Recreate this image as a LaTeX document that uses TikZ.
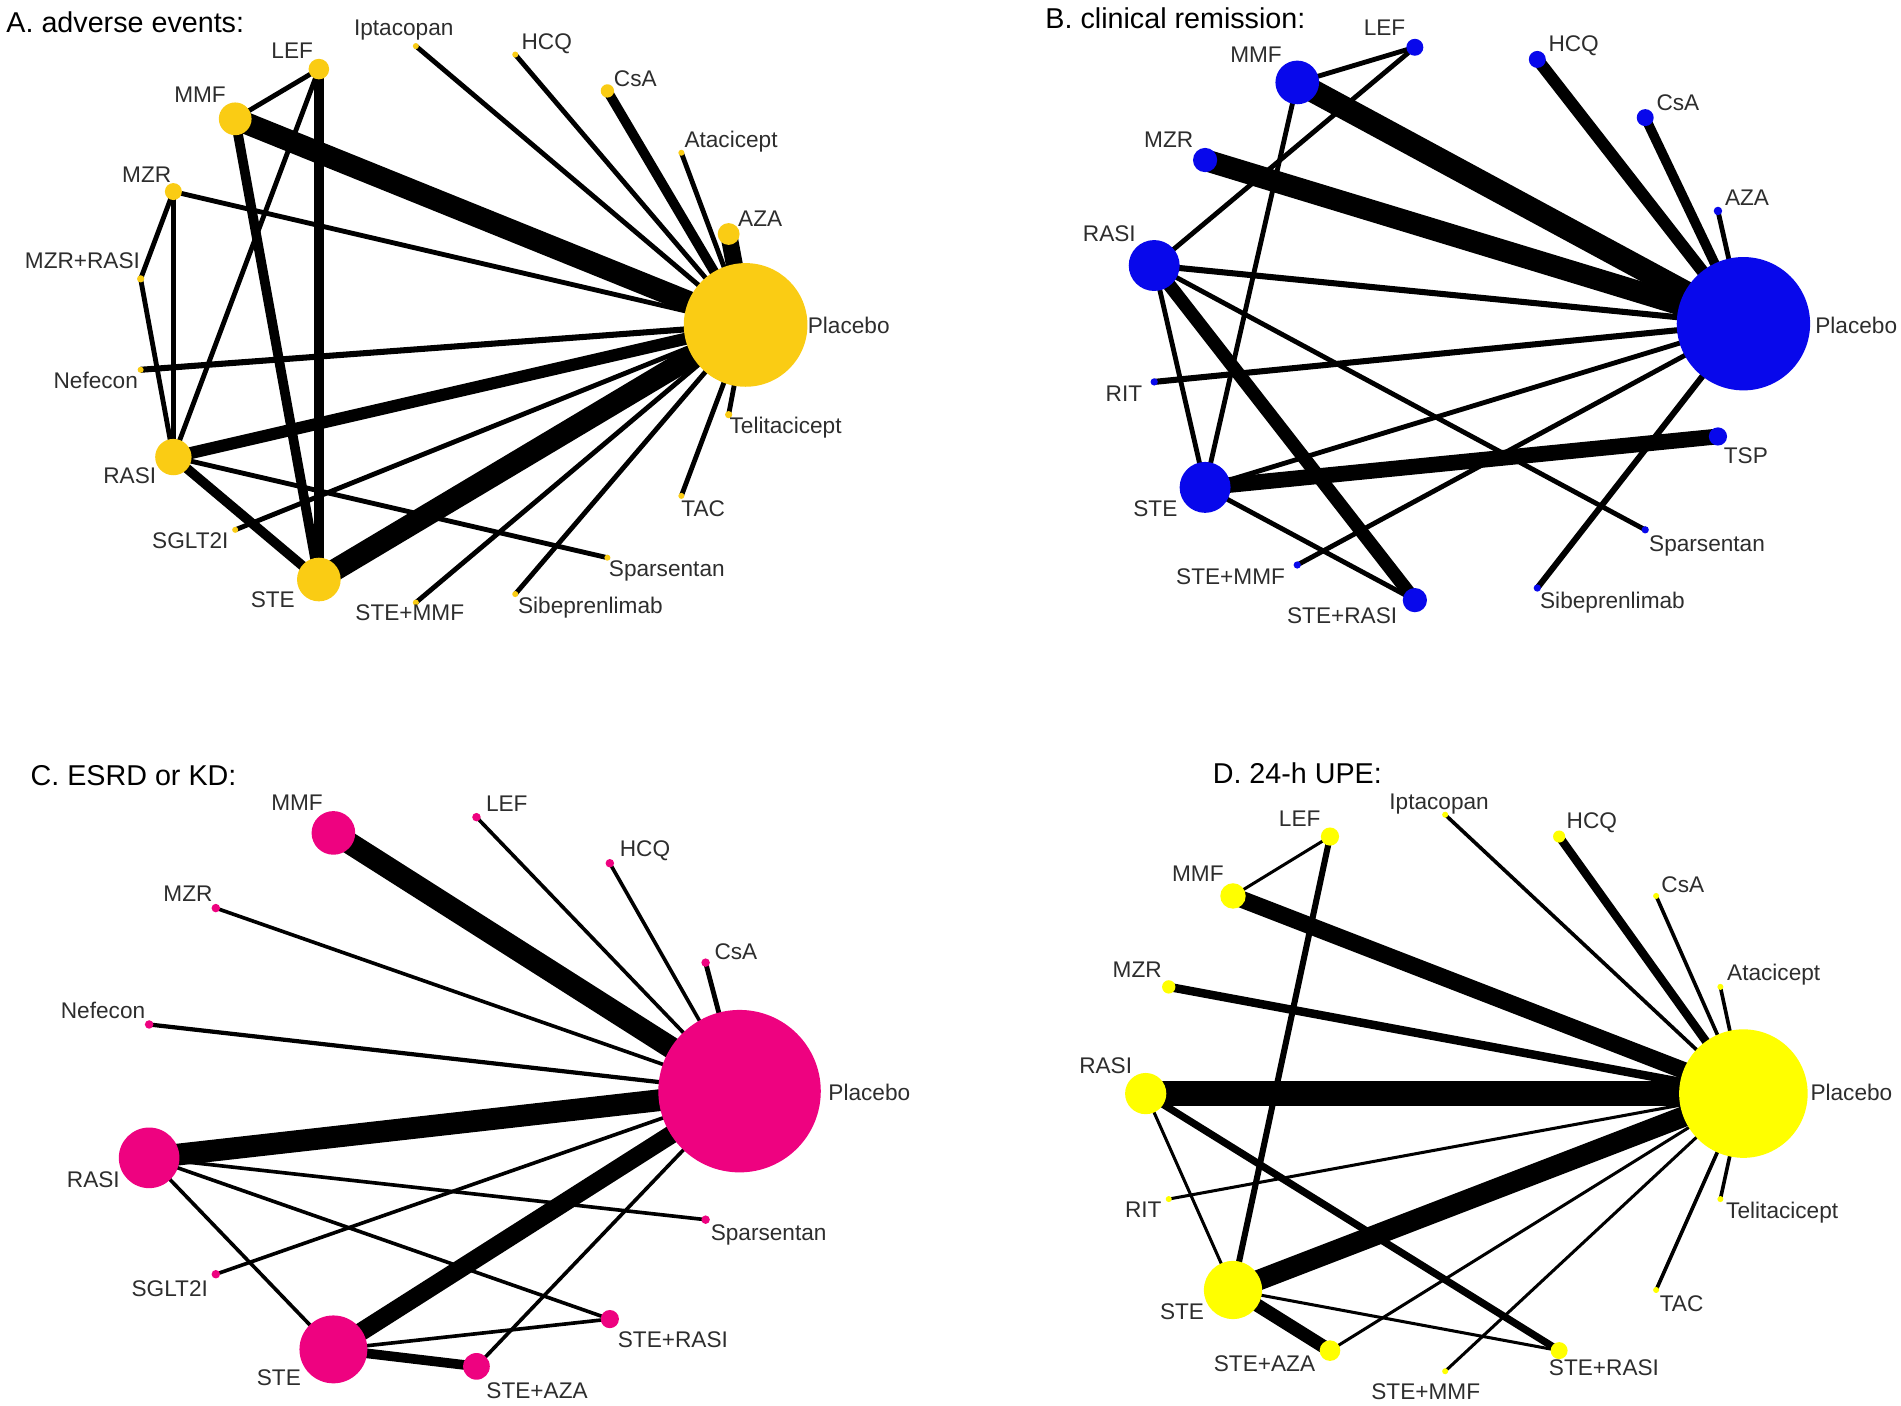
\documentclass[tikz,border=0pt]{standalone}
\usepackage{fontspec}
\setmainfont{Liberation Sans}
\usepackage{tikz}
\usetikzlibrary{backgrounds}

\definecolor{colA}{RGB}{250,204,20}
\definecolor{colB}{RGB}{8,8,235}
\definecolor{colC}{RGB}{238,2,128}
\definecolor{colD}{RGB}{255,255,0}
\definecolor{txtgray}{RGB}{45,45,45}

\tikzset{
  trt/.style={circle, inner sep=0pt, minimum size=#1*1.2pt},
  nA/.style={trt=#1, fill=colA},
  nB/.style={trt=#1, fill=colB},
  nC/.style={trt=#1, fill=colC},
  nD/.style={trt=#1, fill=colD},
  lbl/.style={font=\fontsize{11.2}{13}\selectfont, text=txtgray, inner sep=0pt},
  ttl/.style={font=\fontsize{14.2}{17}\selectfont, text=black, inner sep=0pt, anchor=west},
  ew/.style={line width=#1*0.6pt},
}

\begin{document}
\begin{tikzpicture}[x=0.6pt,y=-0.6pt]
  \useasboundingbox (0,0) rectangle (1568,1159);

  % A. adverse events
  \node[ttl] (a-title) at (5,18) {A. adverse events:};
  \node[nA=51]   (a-pla)     at (615,268) {};
  \node[nA=9]    (a-aza)     at (601,193) {};
  \node[nA=2.5]  (a-ata)     at (562,126) {};
  \node[nA=5.5]  (a-csa)     at (501,75)  {};
  \node[nA=2.5]  (a-hcq)     at (425,45)  {};
  \node[nA=2.5]  (a-ipt)     at (343,38)  {};
  \node[nA=8.5]  (a-lef)     at (263,57)  {};
  \node[nA=13.5] (a-mmf)     at (194,98)  {};
  \node[nA=7]    (a-mzr)     at (143,158) {};
  \node[nA=3]    (a-mzrrasi) at (116,230) {};
  \node[nA=2.5]  (a-nef)     at (116,305) {};
  \node[nA=15]   (a-rasi)    at (143,377) {};
  \node[nA=2.5]  (a-sglt)    at (194,437) {};
  \node[nA=18]   (a-ste)     at (263,478) {};
  \node[nA=2.5]  (a-stemmf)  at (343,497) {};
  \node[nA=2.5]  (a-sib)     at (425,490) {};
  \node[nA=2.5]  (a-spa)     at (501,460) {};
  \node[nA=2.5]  (a-tac)     at (562,409) {};
  \node[nA=3]    (a-tel)     at (601,342) {};

  \node[lbl, anchor=west] (a-pla-t) at (666,268) {Placebo};
  \node[lbl] (a-aza-t)     at (627,180) {AZA};
  \node[lbl] (a-ata-t)     at (603,117) {Atacicept};
  \node[lbl] (a-csa-t)     at (524,65)  {CsA};
  \node[lbl] (a-hcq-t)     at (451,36)  {HCQ};
  \node[lbl] (a-ipt-t)     at (333,25)  {Iptacopan};
  \node[lbl] (a-lef-t)     at (241,42)  {LEF};
  \node[lbl] (a-mmf-t)     at (165,78)  {MMF};
  \node[lbl] (a-mzr-t)     at (121,144) {MZR};
  \node[lbl] (a-mzrrasi-t) at (68,215)  {MZR+RASI};
  \node[lbl] (a-nef-t)     at (79,314)  {Nefecon};
  \node[lbl] (a-rasi-t)    at (107,392) {RASI};
  \node[lbl] (a-sglt-t)    at (157,446) {SGLT2I};
  \node[lbl] (a-ste-t)     at (225,495) {STE};
  \node[lbl] (a-stemmf-t)  at (338,505) {STE+MMF};
  \node[lbl] (a-sib-t)     at (487,501) {Sibeprenlimab};
  \node[lbl] (a-spa-t)     at (550,471) {Sparsentan};
  \node[lbl] (a-tac-t)     at (580,420) {TAC};
  \node[lbl] (a-tel-t)     at (648,353) {Telitacicept};

  \begin{scope}[on background layer]
    \draw[ew=18] (a-mmf.center) -- (a-pla.center);
    \draw[ew=18] (a-ste.center) -- (a-pla.center);
    \draw[ew=10] (a-rasi.center) -- (a-pla.center);
    \draw[ew=14] (a-aza.center) -- (a-pla.center);
    \draw[ew=8] (a-csa.center) -- (a-pla.center);
    \draw[ew=8] (a-lef.center) -- (a-ste.center);
    \draw[ew=8] (a-mmf.center) -- (a-ste.center);
    \draw[ew=8] (a-rasi.center) -- (a-ste.center);
    \draw[ew=4] (a-mmf.center) -- (a-lef.center);
    \draw[ew=4] (a-lef.center) -- (a-rasi.center);
    \draw[ew=4] (a-mzr.center) -- (a-pla.center);
    \draw[ew=5] (a-nef.center) -- (a-pla.center);
    \draw[ew=4] (a-ipt.center) -- (a-pla.center);
    \draw[ew=4] (a-hcq.center) -- (a-pla.center);
    \draw[ew=4] (a-ata.center) -- (a-pla.center);
    \draw[ew=4] (a-tel.center) -- (a-pla.center);
    \draw[ew=4] (a-tac.center) -- (a-pla.center);
    \draw[ew=4] (a-sglt.center) -- (a-pla.center);
    \draw[ew=4] (a-stemmf.center) -- (a-pla.center);
    \draw[ew=4] (a-sib.center) -- (a-pla.center);
    \draw[ew=4] (a-rasi.center) -- (a-spa.center);
    \draw[ew=4] (a-mzr.center) -- (a-rasi.center);
    \draw[ew=4] (a-mzr.center) -- (a-mzrrasi.center);
    \draw[ew=4] (a-mzrrasi.center) -- (a-rasi.center);
  \end{scope}

  % B. clinical remission
  \node[ttl] (b-title) at (862,15) {B. clinical remission:};
  \node[nB=55]  (b-pla)     at (1438,267) {};
  \node[nB=3.5] (b-aza)     at (1417,174) {};
  \node[nB=7]   (b-csa)     at (1357,97)  {};
  \node[nB=7]   (b-hcq)     at (1268,49)  {};
  \node[nB=7]   (b-lef)     at (1167,39)  {};
  \node[nB=18]  (b-mmf)     at (1070,68)  {};
  \node[nB=10]  (b-mzr)     at (994,132)  {};
  \node[nB=21]  (b-rasi)    at (952,219)  {};
  \node[nB=3]   (b-rit)     at (952,315)  {};
  \node[nB=21]  (b-ste)     at (994,402)  {};
  \node[nB=3]   (b-stemmf)  at (1070,466) {};
  \node[nB=10]  (b-sterasi) at (1167,495) {};
  \node[nB=3]   (b-sib)     at (1268,485) {};
  \node[nB=3]   (b-spa)     at (1357,437) {};
  \node[nB=7.5] (b-tsp)     at (1417,360) {};

  \node[lbl, anchor=west] (b-pla-t) at (1497,268) {Placebo};
  \node[lbl] (b-aza-t)     at (1441,163) {AZA};
  \node[lbl] (b-csa-t)     at (1384,85)  {CsA};
  \node[lbl] (b-hcq-t)     at (1298,38)  {HCQ};
  \node[lbl] (b-lef-t)     at (1142,23)  {LEF};
  \node[lbl] (b-mmf-t)     at (1036,45)  {MMF};
  \node[lbl] (b-mzr-t)     at (964,115)  {MZR};
  \node[lbl] (b-rasi-t)    at (915,193)  {RASI};
  \node[lbl] (b-rit-t)     at (927,325)  {RIT};
  \node[lbl] (b-ste-t)     at (953,420)  {STE};
  \node[lbl] (b-stemmf-t)  at (1015,476) {STE+MMF};
  \node[lbl] (b-sterasi-t) at (1107,508) {STE+RASI};
  \node[lbl] (b-sib-t)     at (1330,497) {Sibeprenlimab};
  \node[lbl] (b-spa-t)     at (1408,450) {Sparsentan};
  \node[lbl] (b-tsp-t)     at (1440,376) {TSP};

  \begin{scope}[on background layer]
    \draw[ew=19] (b-mmf.center) -- (b-pla.center);
    \draw[ew=18] (b-mzr.center) -- (b-pla.center);
    \draw[ew=10] (b-hcq.center) -- (b-pla.center);
    \draw[ew=8] (b-csa.center) -- (b-pla.center);
    \draw[ew=4] (b-aza.center) -- (b-pla.center);
    \draw[ew=5] (b-rasi.center) -- (b-pla.center);
    \draw[ew=5] (b-rit.center) -- (b-pla.center);
    \draw[ew=4] (b-ste.center) -- (b-pla.center);
    \draw[ew=4] (b-stemmf.center) -- (b-pla.center);
    \draw[ew=5] (b-sib.center) -- (b-pla.center);
    \draw[ew=13] (b-ste.center) -- (b-tsp.center);
    \draw[ew=11] (b-rasi.center) -- (b-sterasi.center);
    \draw[ew=4] (b-rasi.center) -- (b-ste.center);
    \draw[ew=4] (b-rasi.center) -- (b-spa.center);
    \draw[ew=4] (b-rasi.center) -- (b-lef.center);
    \draw[ew=4] (b-mmf.center) -- (b-lef.center);
    \draw[ew=4] (b-mmf.center) -- (b-ste.center);
    \draw[ew=4] (b-ste.center) -- (b-sterasi.center);
  \end{scope}

  % C. ESRD or KD
  \node[ttl] (c-title) at (25,640) {C. ESRD or KD:};
  \node[nC=67]  (c-pla)     at (610,900)  {};
  \node[nC=3.5] (c-csa)     at (582,794)  {};
  \node[nC=3.5] (c-hcq)     at (503,712)  {};
  \node[nC=3.5] (c-lef)     at (393,674)  {};
  \node[nC=18]  (c-mmf)     at (275,687)  {};
  \node[nC=3.5] (c-mzr)     at (178,749)  {};
  \node[nC=3.5] (c-nef)     at (123,845)  {};
  \node[nC=25]  (c-rasi)    at (123,955)  {};
  \node[nC=3.5] (c-sglt)    at (178,1051) {};
  \node[nC=28]  (c-ste)     at (275,1113) {};
  \node[nC=11]  (c-steaza)  at (393,1127) {};
  \node[nC=7.5] (c-sterasi) at (503,1088) {};
  \node[nC=3.5] (c-spa)     at (582,1006) {};

  \node[lbl, anchor=west] (c-pla-t) at (683,901) {Placebo};
  \node[lbl] (c-csa-t)     at (607,785)  {CsA};
  \node[lbl] (c-hcq-t)     at (532,702)  {HCQ};
  \node[lbl] (c-lef-t)     at (418,663)  {LEF};
  \node[lbl] (c-mmf-t)     at (245,662)  {MMF};
  \node[lbl] (c-mzr-t)     at (155,737)  {MZR};
  \node[lbl] (c-nef-t)     at (85,833)   {Nefecon};
  \node[lbl] (c-rasi-t)    at (77,973)   {RASI};
  \node[lbl] (c-sglt-t)    at (140,1063) {SGLT2I};
  \node[lbl] (c-ste-t)     at (230,1136) {STE};
  \node[lbl] (c-steaza-t)  at (443,1147) {STE+AZA};
  \node[lbl] (c-sterasi-t) at (555,1105) {STE+RASI};
  \node[lbl] (c-spa-t)     at (634,1019) {Sparsentan};

  \begin{scope}[on background layer]
    \draw[ew=18] (c-mmf.center) -- (c-pla.center);
    \draw[ew=18] (c-rasi.center) -- (c-pla.center);
    \draw[ew=15] (c-ste.center) -- (c-pla.center);
    \draw[ew=8] (c-ste.center) -- (c-steaza.center);
    \draw[ew=3] (c-lef.center) -- (c-pla.center);
    \draw[ew=3] (c-hcq.center) -- (c-pla.center);
    \draw[ew=4] (c-csa.center) -- (c-pla.center);
    \draw[ew=3] (c-mzr.center) -- (c-pla.center);
    \draw[ew=3.5] (c-nef.center) -- (c-pla.center);
    \draw[ew=3] (c-sglt.center) -- (c-pla.center);
    \draw[ew=3] (c-steaza.center) -- (c-pla.center);
    \draw[ew=3] (c-rasi.center) -- (c-spa.center);
    \draw[ew=3] (c-rasi.center) -- (c-ste.center);
    \draw[ew=3] (c-rasi.center) -- (c-sterasi.center);
    \draw[ew=3] (c-ste.center) -- (c-sterasi.center);
  \end{scope}

  % D. 24-h UPE
  \node[ttl] (d-title) at (1000,638) {D. 24-h UPE:};
  \node[nD=53]  (d-pla)     at (1438,902)  {};
  \node[nD=2.5] (d-ata)     at (1419,814)  {};
  \node[nD=2.5] (d-csa)     at (1366,739)  {};
  \node[nD=5]   (d-hcq)     at (1286,690)  {};
  \node[nD=2.5] (d-ipt)     at (1192,672)  {};
  \node[nD=7.5] (d-lef)     at (1097,690)  {};
  \node[nD=10.5] (d-mmf)    at (1017,739)  {};
  \node[nD=5.5] (d-mzr)     at (964,814)   {};
  \node[nD=17]  (d-rasi)    at (945,902)   {};
  \node[nD=2.5] (d-rit)     at (964,989)   {};
  \node[nD=24]  (d-ste)     at (1017,1064) {};
  \node[nD=8.5] (d-steaza)  at (1097,1114) {};
  \node[nD=2.5] (d-stemmf)  at (1192,1131) {};
  \node[nD=7]   (d-sterasi) at (1286,1114) {};
  \node[nD=2.5] (d-tac)     at (1366,1064) {};
  \node[nD=2.5] (d-tel)     at (1419,989)  {};

  \node[lbl, anchor=west] (d-pla-t) at (1493,901) {Placebo};
  \node[lbl] (d-ata-t)     at (1463,804)  {Atacicept};
  \node[lbl] (d-csa-t)     at (1388,730)  {CsA};
  \node[lbl] (d-hcq-t)     at (1313,679)  {HCQ};
  \node[lbl] (d-ipt-t)     at (1187,663)  {Iptacopan};
  \node[lbl] (d-lef-t)     at (1072,675)  {LEF};
  \node[lbl] (d-mmf-t)     at (988,721)   {MMF};
  \node[lbl] (d-mzr-t)     at (938,800)   {MZR};
  \node[lbl] (d-rasi-t)    at (912,879)   {RASI};
  \node[lbl] (d-rit-t)     at (943,998)   {RIT};
  \node[lbl] (d-ste-t)     at (975,1082)  {STE};
  \node[lbl] (d-steaza-t)  at (1043,1125) {STE+AZA};
  \node[lbl] (d-stemmf-t)  at (1176,1148) {STE+MMF};
  \node[lbl] (d-sterasi-t) at (1323,1128) {STE+RASI};
  \node[lbl] (d-tac-t)     at (1387,1075) {TAC};
  \node[lbl] (d-tel-t)     at (1470,1000) {Telitacicept};

  \begin{scope}[on background layer]
    \draw[ew=20] (d-rasi.center) -- (d-pla.center);
    \draw[ew=17] (d-ste.center) -- (d-pla.center);
    \draw[ew=14] (d-mmf.center) -- (d-pla.center);
    \draw[ew=7] (d-mzr.center) -- (d-pla.center);
    \draw[ew=7] (d-hcq.center) -- (d-pla.center);
    \draw[ew=3] (d-ipt.center) -- (d-pla.center);
    \draw[ew=3] (d-csa.center) -- (d-pla.center);
    \draw[ew=3] (d-ata.center) -- (d-pla.center);
    \draw[ew=3] (d-tel.center) -- (d-pla.center);
    \draw[ew=3] (d-tac.center) -- (d-pla.center);
    \draw[ew=2.5] (d-rit.center) -- (d-pla.center);
    \draw[ew=2.5] (d-steaza.center) -- (d-pla.center);
    \draw[ew=2.5] (d-stemmf.center) -- (d-pla.center);
    \draw[ew=2.5] (d-lef.center) -- (d-mmf.center);
    \draw[ew=5] (d-lef.center) -- (d-ste.center);
    \draw[ew=2.5] (d-rasi.center) -- (d-ste.center);
    \draw[ew=6] (d-rasi.center) -- (d-sterasi.center);
    \draw[ew=2.5] (d-ste.center) -- (d-sterasi.center);
    \draw[ew=11] (d-ste.center) -- (d-steaza.center);
  \end{scope}
\end{tikzpicture}
\end{document}
